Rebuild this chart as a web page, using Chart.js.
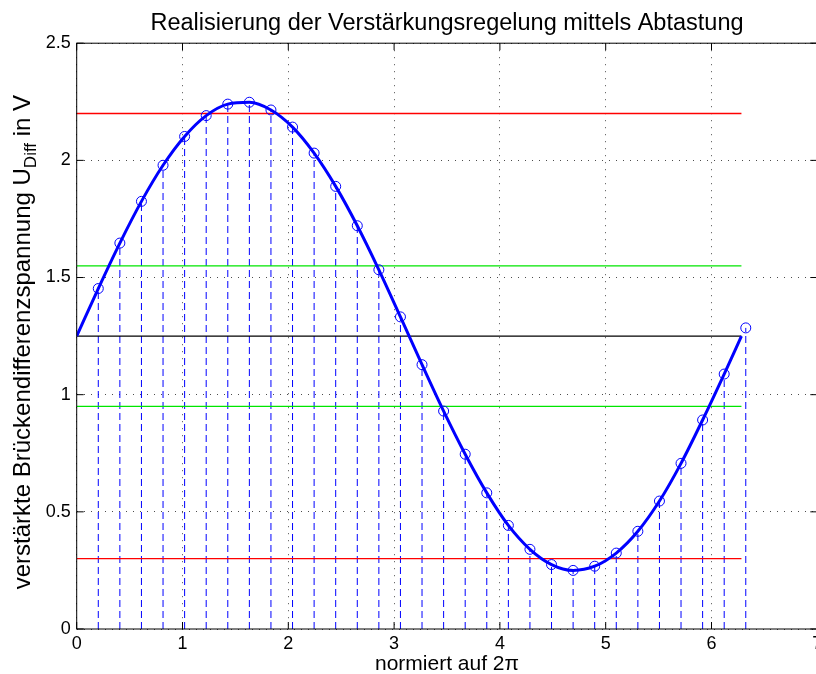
<!DOCTYPE html>
<html>
<head>
<meta charset="utf-8">
<script src="https://cdn.jsdelivr.net/npm/chart.js@4.4.1/dist/chart.umd.min.js"></script>
<style>
  html, body { margin: 0; padding: 0; background: #fff; overflow: hidden; }
  #wrap { position: relative; width: 830px; height: 674px; }
</style>
</head>
<body>
<div id="wrap"><canvas id="abtastChart"></canvas></div>
<script>
// Abtastzeitpunkte (normiert auf 2*pi) und abgetastete Spannungswerte
const abtastX = [0.204, 0.408, 0.612, 0.816, 1.020, 1.224, 1.428, 1.632, 1.836, 2.040,
                 2.244, 2.448, 2.652, 2.856, 3.060, 3.264, 3.468, 3.672, 3.876, 4.080,
                 4.284, 4.488, 4.692, 4.896, 5.100, 5.304, 5.508, 5.712, 5.916, 6.120, 6.324];
const abtastY = [1.453, 1.647, 1.825, 1.979, 2.102, 2.191, 2.240, 2.248, 2.215, 2.142,
                 2.031, 1.889, 1.721, 1.533, 1.332, 1.128, 0.930, 0.746, 0.581, 0.442,
                 0.340, 0.275, 0.250, 0.268, 0.324, 0.417, 0.546, 0.707, 0.892, 1.088, 1.285];

// Verlauf der Brückendifferenzspannung über eine Periode
const kurveX = [0, 0.204, 0.408, 0.612, 0.816, 1.020, 1.224, 1.428, 1.632, 1.836, 2.040,
                2.244, 2.448, 2.652, 2.856, 3.060, 3.264, 3.468, 3.672, 3.876, 4.080,
                4.284, 4.488, 4.692, 4.896, 5.100, 5.304, 5.508, 5.712, 5.916, 6.120, 6.283];
const kurveY = [1.25, 1.453, 1.647, 1.825, 1.979, 2.102, 2.191, 2.240, 2.248, 2.215, 2.142,
                2.031, 1.889, 1.721, 1.533, 1.332, 1.128, 0.930, 0.746, 0.581, 0.442,
                0.340, 0.275, 0.250, 0.268, 0.324, 0.417, 0.546, 0.707, 0.892, 1.088, 1.25];

// Schwellwerte: oben/unten rot, Fenster grün, Mittelwert schwarz
const schwellen = [2.2, 1.55, 1.25, 0.95, 0.3];
const schwellenFarben = ['rgb(255,0,0)', 'rgb(0,230,0)', 'rgb(0,0,0)', 'rgb(0,230,0)', 'rgb(255,0,0)'];
const periodeEnde = 6.283;

// Achsen
const xTicks = [0, 1, 2, 3, 4, 5, 6, 7];
const yTicks = [0, 0.5, 1, 1.5, 2, 2.5];
const yTickLabels = ['0', '0.5', '1', '1.5', '2', '2.5'];

const schrift = "'Liberation Sans', Arial, Helvetica, sans-serif";
Chart.defaults.font.family = schrift;
Chart.defaults.color = '#000';

// gestrichelte Stiele von 0 bis zum Abtastwert, durch null getrennt
const stiele = [];
abtastX.forEach((x, i) => {
  stiele.push({x: x, y: 0}, {x: x, y: abtastY[i]}, {x: x, y: null});
});

const linien = schwellen.map((v, i) => ({
  data: [{x: 0, y: v}, {x: periodeEnde, y: v}],
  showLine: true,
  borderColor: schwellenFarben[i],
  backgroundColor: schwellenFarben[i],
  borderWidth: 1.3,
  pointRadius: 0,
  order: 2
}));

// Rahmen, nach innen zeigende Ticks und y-Beschriftung mit Index
const rahmenPlugin = {
  id: 'rahmen',
  afterDraw(chart) {
    const {ctx, chartArea: a, scales: {x, y}} = chart;
    ctx.save();
    ctx.strokeStyle = '#000';
    ctx.lineWidth = 1;
    ctx.setLineDash([]);
    ctx.strokeRect(a.left, a.top, a.right - a.left, a.bottom - a.top);
    const len = 7;
    ctx.beginPath();
    xTicks.forEach(v => {
      const px = x.getPixelForValue(v);
      ctx.moveTo(px, a.bottom); ctx.lineTo(px, a.bottom - len);
      ctx.moveTo(px, a.top); ctx.lineTo(px, a.top + len);
    });
    yTicks.forEach(v => {
      const py = y.getPixelForValue(v);
      ctx.moveTo(a.left, py); ctx.lineTo(a.left + len, py);
      ctx.moveTo(a.right, py); ctx.lineTo(a.right - len, py);
    });
    ctx.stroke();

    const teile = [
      {text: 'verstärkte Brückendifferenzspannung U', size: 24, dy: 0},
      {text: 'Diff', size: 17, dy: 6},
      {text: ' in V', size: 24, dy: 0}
    ];
    let gesamt = 0;
    teile.forEach(t => {
      ctx.font = t.size + 'px ' + schrift;
      t.w = ctx.measureText(t.text).width;
      gesamt += t.w;
    });
    ctx.translate(30, (a.top + a.bottom) / 2 + 6);
    ctx.rotate(-Math.PI / 2);
    ctx.fillStyle = '#000';
    ctx.textBaseline = 'alphabetic';
    let pos = -gesamt / 2;
    teile.forEach(t => {
      ctx.font = t.size + 'px ' + schrift;
      ctx.fillText(t.text, pos, t.dy);
      pos += t.w;
    });
    ctx.restore();
  }
};

new Chart(document.getElementById('abtastChart'), {
  type: 'scatter',
  data: {
    datasets: [
      {
        data: abtastX.map((x, i) => ({x: x, y: abtastY[i]})),
        showLine: false,
        pointRadius: 5,
        pointBorderWidth: 1,
        pointBorderColor: '#0000ff',
        pointBackgroundColor: 'rgba(0,0,0,0)',
        order: 0
      },
      {
        data: kurveX.map((x, i) => ({x: x, y: kurveY[i]})),
        showLine: true,
        borderColor: '#0000ff',
        borderWidth: 3,
        pointRadius: 0,
        cubicInterpolationMode: 'monotone',
        order: 1
      },
      ...linien,
      {
        data: stiele,
        showLine: true,
        spanGaps: false,
        borderColor: '#0000ff',
        borderWidth: 1,
        borderDash: [7, 4],
        pointRadius: 0,
        order: 3
      }
    ]
  },
  options: {
    responsive: true,
    maintainAspectRatio: false,
    animation: false,
    events: [],
    layout: { padding: { left: 0, right: 12.7, top: 0, bottom: 0 } },
    plugins: {
      legend: { display: false },
      tooltip: { enabled: false },
      title: {
        display: true,
        fullSize: false,
        text: 'Realisierung der Verstärkungsregelung mittels Abtastung',
        font: { size: 23.5, weight: 'normal' },
        color: '#000',
        padding: { top: 9, bottom: 6 }
      }
    },
    scales: {
      x: {
        type: 'linear',
        min: 0,
        max: 7,
        afterBuildTicks: s => { s.ticks = xTicks.map(v => ({value: v})); },
        afterFit: s => { s.height = 45; },
        ticks: { font: { size: 18 }, padding: 4, autoSkip: false, maxRotation: 0 },
        grid: { color: 'rgba(0,0,0,0.7)', lineWidth: 1, drawTicks: false },
        border: { display: false, dash: [1, 6] },
        title: {
          display: true,
          text: 'normiert auf 2π',
          font: { size: 21, lineHeight: 1 },
          padding: { top: 0, bottom: -1 }
        }
      },
      y: {
        type: 'linear',
        min: 0,
        max: 2.5,
        afterBuildTicks: s => { s.ticks = yTicks.map(v => ({value: v})); },
        afterFit: s => { s.width = 76.7; },
        ticks: { font: { size: 18 }, padding: 6, callback: (v, i) => yTickLabels[i] },
        grid: { color: 'rgba(0,0,0,0.7)', lineWidth: 1, drawTicks: false },
        border: { display: false, dash: [1, 6] }
      }
    }
  },
  plugins: [rahmenPlugin]
});
</script>
</body>
</html>
